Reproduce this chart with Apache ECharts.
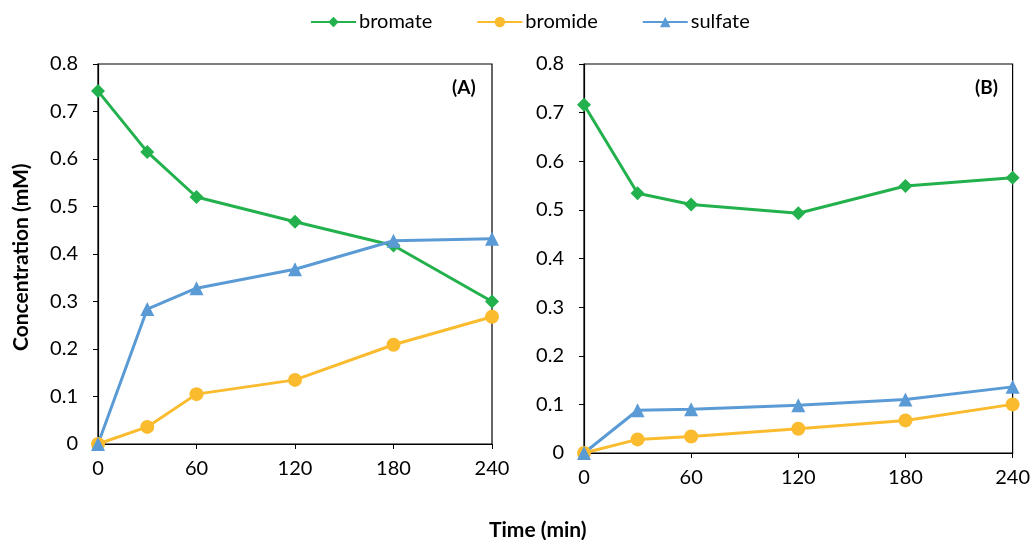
<!DOCTYPE html>
<html>
<head>
<meta charset="utf-8">
<script src="https://cdn.jsdelivr.net/npm/echarts@6/dist/echarts.min.js"></script>
<style>
  html, body { margin: 0; padding: 0; background: #fff; }
  #chart { width: 1033px; height: 540px; }
</style>
</head>
<body>
<div id="chart"></div>
<script>
// Sampling times (min)
const times = [0, 30, 60, 120, 180, 240];
const xTicks = [0, 60, 120, 180, 240];

// Panel (A) concentrations (mM)
const bromateA = [0.743, 0.615, 0.520, 0.468, 0.418, 0.300];
const bromideA = [0.000, 0.036, 0.105, 0.135, 0.209, 0.268];
const sulfateA = [0.000, 0.284, 0.328, 0.368, 0.428, 0.432];

// Panel (B) concentrations (mM)
const bromateB = [0.716, 0.534, 0.511, 0.493, 0.549, 0.566];
const bromideB = [0.000, 0.028, 0.034, 0.050, 0.067, 0.100];
const sulfateB = [0.000, 0.088, 0.090, 0.098, 0.110, 0.136];

const seriesNames = ['bromate', 'bromide', 'sulfate'];
const panelLabels = ['(A)', '(B)'];

const colors = { bromate: '#22b14c', bromide: '#fbbb2f', sulfate: '#5b9bd5' };
const symbols = { bromate: 'diamond', bromide: 'circle', sulfate: 'triangle' };
const symbolSizes = { bromate: 14, bromide: 14, sulfate: 14 };

const FONT = 'Lato, "Open Sans", sans-serif';

function pairs(ys) { return times.map((t, i) => [t, ys[i]]); }

function makeSeries(name, ys, idx) {
  return {
    name: name,
    type: 'line',
    xAxisIndex: idx,
    yAxisIndex: idx,
    data: pairs(ys),
    symbol: symbols[name],
    symbolSize: symbolSizes[name],
    lineStyle: { color: colors[name], width: 3 },
    itemStyle: { color: colors[name] },
    animation: false
  };
}

function xAxis(idx) {
  return {
    type: 'value', gridIndex: idx, min: 0, max: 240, interval: 60,
    axisLine: { lineStyle: { color: '#000', width: 1.2 } },
    axisTick: { show: true, length: 5, lineStyle: { color: '#000' } },
    axisLabel: { color: '#000', fontSize: 20, fontFamily: FONT, margin: 15 },
    splitLine: { show: false }
  };
}
function yAxis(idx) {
  return {
    type: 'value', gridIndex: idx, min: 0, max: 0.8, interval: 0.1,
    axisLine: { show: true, lineStyle: { color: '#000', width: 1.2 } },
    axisTick: { show: true, length: 5, lineStyle: { color: '#000' } },
    axisLabel: { color: '#000', fontSize: 20, fontFamily: FONT, margin: 20 },
    splitLine: { show: false }
  };
}

const chart = echarts.init(document.getElementById('chart'), null, { renderer: 'canvas' });
chart.setOption({
  backgroundColor: '#fff',
  animation: false,
  legend: {
    top: 7, left: 305,
    data: seriesNames,
    itemWidth: 45, itemHeight: 13, itemGap: 44,
    textStyle: { fontSize: 20, fontFamily: FONT, color: '#000', padding: [0, 0, 0, -2] }
  },
  grid: [
    { left: 98, top: 64, width: 394, height: 380, show: true, borderColor: '#000', borderWidth: 1.2, backgroundColor: 'transparent' },
    { left: 584, top: 64, width: 433, height: 389, show: true, borderColor: '#000', borderWidth: 1.2, backgroundColor: 'transparent' }
  ],
  xAxis: [xAxis(0), xAxis(1)],
  yAxis: [yAxis(0), yAxis(1)],
  series: [
    makeSeries('bromate', bromateA, 0),
    makeSeries('bromide', bromideA, 0),
    makeSeries('sulfate', sulfateA, 0),
    makeSeries('bromate', bromateB, 1),
    makeSeries('bromide', bromideB, 1),
    makeSeries('sulfate', sulfateB, 1)
  ],
  graphic: [
    { type: 'text', left: 452, top: 78, style: { text: panelLabels[0], font: 'bold 19px ' + FONT, fill: '#000' } },
    { type: 'text', left: 975, top: 78, style: { text: panelLabels[1], font: 'bold 19px ' + FONT, fill: '#000' } },
    { type: 'text', left: 489, top: 520, style: { text: 'Time (min)', font: 'bold 21px ' + FONT, fill: '#000' } },
    { type: 'text', rotation: Math.PI / 2, x: 11, y: 351, style: { text: 'Concentration (mM)', font: 'bold 21px ' + FONT, fill: '#000', textAlign: 'left', textVerticalAlign: 'top' } }
  ]
});
</script>
</body>
</html>
